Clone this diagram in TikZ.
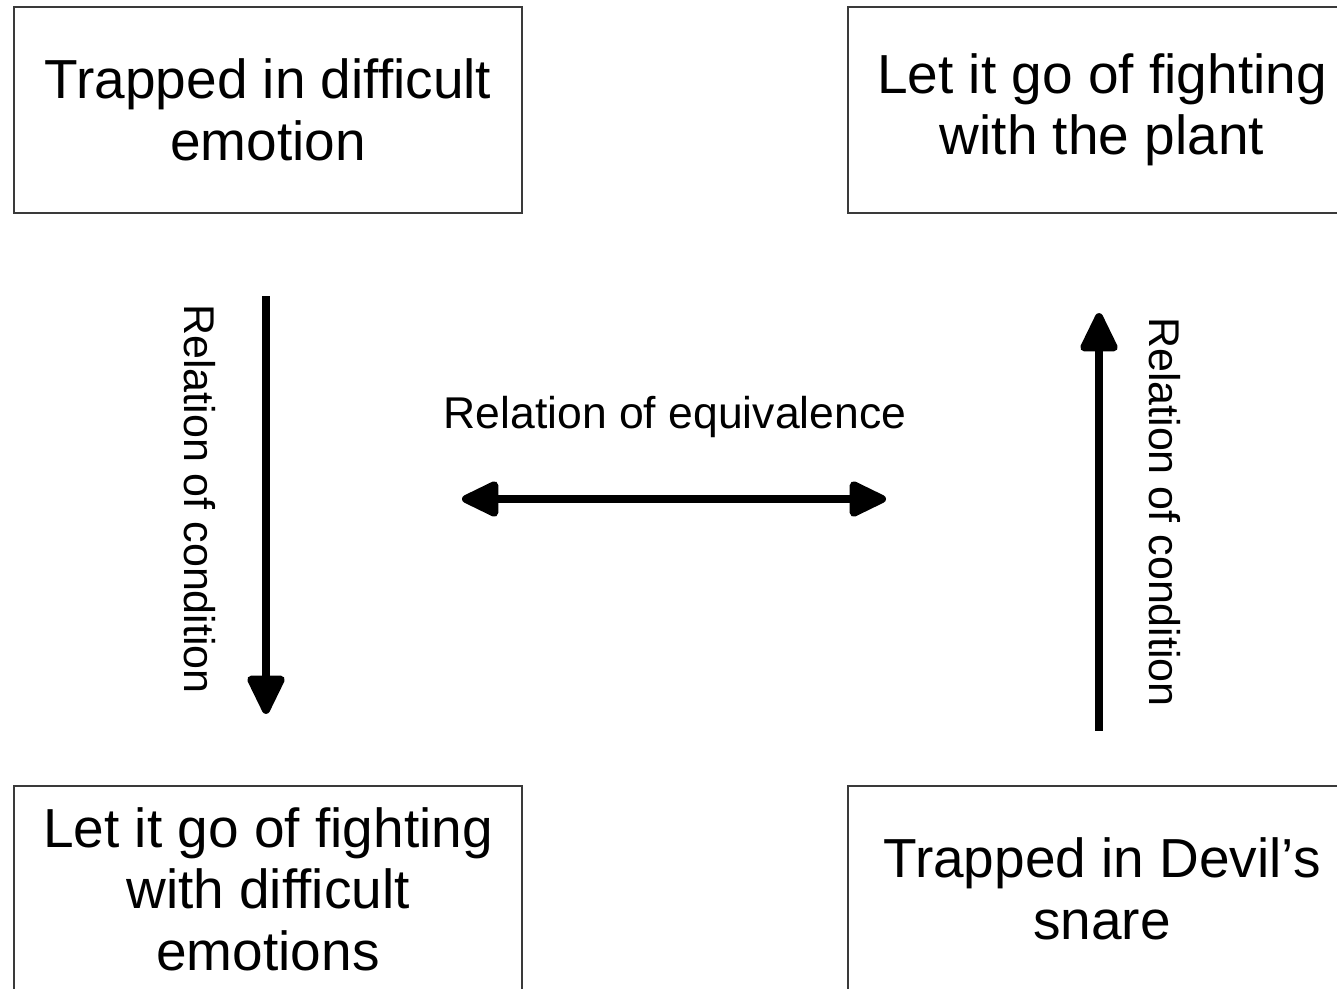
\documentclass[tikz,border=0pt]{standalone}
\usepackage{fontspec}
\setmainfont{Liberation Sans}
\usetikzlibrary{arrows.meta}
\definecolor{boxline}{HTML}{3A3A3A}
\begin{document}
\begin{tikzpicture}[x=1pt,y=-1pt,
  statebox/.style={draw=boxline,line width=2.2pt,minimum width=508pt,minimum height=206pt,
    align=center,inner sep=0pt,font=\fontsize{55}{61.5}\selectfont,text=black},
  relarrow/.style={line width=8pt,-{Triangle[length=44pt,width=40pt,round]}},
  bothrel/.style={line width=8pt,{Triangle[length=42pt,width=38pt,round]}-{Triangle[length=42pt,width=38pt,round]}},
  rellabel/.style={font=\fontsize{43}{48}\selectfont,inner sep=0pt}]
\useasboundingbox (0,0) rectangle (1337,988);
\clip (0,0) rectangle (1337,988);
\fill[white] (0,0) rectangle (1337,988);
\node[statebox] (b1) at (268,110) {Trapped in difficult\\emotion};
\node[statebox] (b2) at (1102,110) {Let it go of fighting\\with the plant};
\node[statebox] (b3) at (268,889) {Let it go of fighting\\with difficult\\emotions};
\node[statebox] (b4) at (1102,889) {Trapped in Devil’s\\snare};
\coordinate (eqL) at (462,499);
\coordinate (eqR) at (886,499);
\draw[relarrow,shorten <=82pt,shorten >=71pt] ([xshift=-2pt]b1.south) -- ([xshift=-2pt]b3.north);
\draw[relarrow,shorten <=54pt,shorten >=99pt] ([xshift=-3pt]b4.north) -- ([xshift=-3pt]b2.south);
\draw[bothrel] (eqL) -- (eqR);
\node[rellabel,font=\fontsize{44.5}{50}\selectfont] (leq) at (675,417) {Relation of equivalence};
\node[rellabel,rotate=-90] (lc1) at (200,499) {Relation of condition};
\node[rellabel,rotate=-90] (lc2) at (1165,512) {Relation of condition};
\end{tikzpicture}
\end{document}
